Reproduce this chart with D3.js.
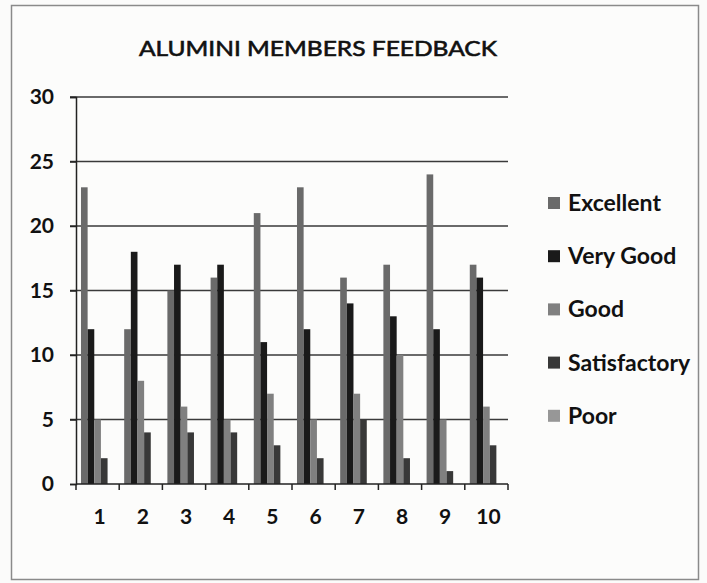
<!DOCTYPE html>
<html>
<head>
<meta charset="utf-8">
<script src="https://cdn.jsdelivr.net/npm/d3@7"></script>
<style>
  html, body { margin: 0; padding: 0; background: #fbfbfa; }
  svg { display: block; }
  text { font-family: Lato, "Open Sans", sans-serif; fill: #111; }
</style>
</head>
<body>
<svg id="chart" width="707" height="583"></svg>
<script>
// Feedback counts per alumni group, one array per rating
const groups = ["1", "2", "3", "4", "5", "6", "7", "8", "9", "10"];
const ratings = ["Excellent", "Very Good", "Good", "Satisfactory", "Poor"];
const excellent    = [23, 12, 15, 16, 21, 23, 16, 17, 24, 17];
const veryGood     = [12, 18, 17, 17, 11, 12, 14, 13, 12, 16];
const good         = [5, 8, 6, 5, 7, 5, 7, 10, 5, 6];
const satisfactory = [2, 4, 4, 4, 3, 2, 5, 2, 1, 3];
const poor         = [0, 0, 0, 0, 0, 0, 0, 0, 0, 0];
const yTicks = [0, 5, 10, 15, 20, 25, 30];
const title = "ALUMINI MEMBERS FEEDBACK";

const seriesValues = [excellent, veryGood, good, satisfactory, poor];
const colors = ["#6a6a6a", "#1a1a1a", "#808080", "#383838", "#979797"];

const svg = d3.select("#chart");

// outer frame
svg.append("rect")
  .attr("x", 11.5).attr("y", 5.5)
  .attr("width", 687).attr("height", 574)
  .attr("fill", "#fcfcfb")
  .attr("stroke", "#8a8a8a").attr("stroke-width", 1.5);

const plot = { left: 76, right: 508, top: 97, bottom: 484 };

const y = d3.scaleLinear().domain([0, 30]).range([plot.bottom, plot.top]);
const x0 = d3.scaleBand().domain(groups).range([plot.left, plot.right]).padding(0);
const x1 = d3.scaleBand().domain(ratings).range([0, x0.bandwidth()])
  .paddingInner(0).paddingOuter(0.75);

// horizontal gridlines
svg.append("g")
  .selectAll("line")
  .data(yTicks.filter(d => d > 0))
  .join("line")
  .attr("x1", plot.left - 6).attr("x2", plot.right)
  .attr("y1", d => y(d)).attr("y2", d => y(d))
  .attr("stroke", "#3a3a3a").attr("stroke-width", 1.5);

// bars
const rows = groups.map((g, i) => ({
  group: g,
  values: ratings.map((r, s) => ({ rating: r, value: seriesValues[s][i], idx: s }))
}));

svg.append("g")
  .selectAll("g")
  .data(rows)
  .join("g")
  .attr("transform", d => `translate(${x0(d.group)},0)`)
  .selectAll("rect")
  .data(d => d.values)
  .join("rect")
  .attr("x", d => x1(d.rating))
  .attr("width", x1.bandwidth())
  .attr("y", d => y(d.value))
  .attr("height", d => y(0) - y(d.value))
  .attr("fill", d => colors[d.idx]);

// y axis
const yAxis = svg.append("g")
  .attr("transform", `translate(${plot.left},0)`)
  .call(d3.axisLeft(y).tickValues(yTicks).tickSize(6).tickPadding(6));
yAxis.select(".domain").attr("stroke", "#222").attr("stroke-width", 1.5);
yAxis.selectAll(".tick line").attr("stroke", "#222").attr("stroke-width", 1.5);
yAxis.selectAll(".tick text")
  .attr("font-size", 21).attr("font-weight", 700)
  .attr("font-family", "Lato, sans-serif").attr("fill", "#111")
  .attr("x", -22);

// x axis with ticks between groups
const xEdges = groups.map(g => x0(g)).concat([plot.right]);
svg.append("line")
  .attr("x1", plot.left).attr("x2", plot.right)
  .attr("y1", plot.bottom).attr("y2", plot.bottom)
  .attr("stroke", "#222").attr("stroke-width", 1.5);
svg.append("g")
  .selectAll("line")
  .data(xEdges)
  .join("line")
  .attr("x1", d => d).attr("x2", d => d)
  .attr("y1", plot.bottom).attr("y2", plot.bottom + 6)
  .attr("stroke", "#222").attr("stroke-width", 1.5);
svg.append("g")
  .selectAll("text")
  .data(groups)
  .join("text")
  .attr("x", d => x0(d) + x0.bandwidth() / 2 + 2)
  .attr("y", 524)
  .attr("text-anchor", "middle")
  .attr("font-size", 21).attr("font-weight", 700)
  .text(d => d);

// title
svg.append("text")
  .attr("x", 318).attr("y", 56)
  .attr("text-anchor", "middle")
  .attr("font-size", 21)
  .attr("font-weight", 400)
  .attr("stroke", "#111").attr("stroke-width", 0.6)
  .attr("textLength", 358)
  .attr("lengthAdjust", "spacingAndGlyphs")
  .text(title);

// legend
const legend = svg.append("g")
  .selectAll("g")
  .data(ratings)
  .join("g")
  .attr("transform", (d, i) => `translate(548,${203 + i * 53.2})`);
legend.append("rect")
  .attr("x", 0).attr("y", -6)
  .attr("width", 12).attr("height", 12)
  .attr("fill", (d, i) => colors[i]);
legend.append("text")
  .attr("x", 20).attr("y", 8)
  .attr("font-size", 23).attr("font-weight", 700)
  .text(d => d);
</script>
</body>
</html>
